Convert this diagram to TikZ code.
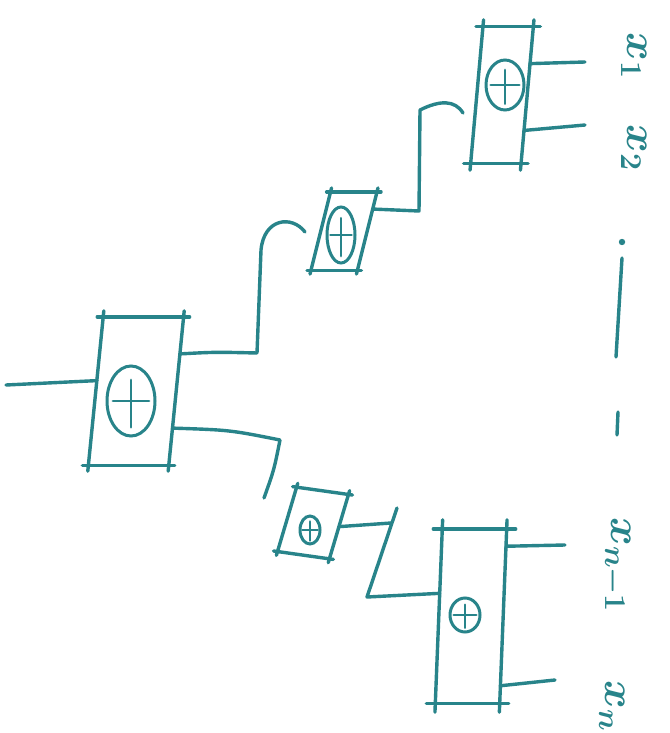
\documentclass[tikz,border=0pt]{standalone}
\usetikzlibrary{shapes.geometric,calc}
\definecolor{ink}{RGB}{40,132,138}
\newcommand{\skbox}[2]{%
 \draw[ink line] ($(#1.north west)!-#2!(#1.south west)$) -- ($(#1.south west)!-#2!(#1.north west)$);
 \draw[ink line] ($(#1.north east)!-#2!(#1.south east)$) -- ($(#1.south east)!-#2!(#1.north east)$);
 \draw[ink line] ($(#1.north west)!-#2!(#1.north east)$) -- ($(#1.north east)!-#2!(#1.north west)$);
 \draw[ink line] ($(#1.south west)!-#2!(#1.south east)$) -- ($(#1.south east)!-#2!(#1.south west)$);
}
\begin{document}
\begin{tikzpicture}[x=1pt,y=-1pt,
  ink line/.style={draw=ink, line width=3.4pt, line cap=round, line join=round},
  gatebox/.style={rectangle, inner sep=0pt, draw=none},
  xorc/.style={ellipse, draw=ink, line width=3pt, inner sep=0pt,
    path picture={\draw[draw=ink, line width=2.8pt, line cap=round]
      ($(path picture bounding box.center)!0.75!(path picture bounding box.west)$) --
      ($(path picture bounding box.center)!0.75!(path picture bounding box.east)$)
      ($(path picture bounding box.center)!0.6!(path picture bounding box.north)$) --
      ($(path picture bounding box.center)!0.75!(path picture bounding box.south)$);}},
  lab/.style={text=ink, rotate=-90, font=\huge\boldmath, scale=2.1, inner sep=0pt}
]
\fill[white] (0,0) rectangle (669,733);
\useasboundingbox (0,0) rectangle (669,733);

% gate boxes
\node[gatebox, minimum width=80pt, minimum height=148pt, xslant=0.1] (g1) at (136,391) {};
\node[gatebox, minimum width=46pt, minimum height=78pt, xslant=0.25] (g2) at (344,231) {};
\node[gatebox, minimum width=50pt, minimum height=136pt, xslant=0.09] (g3) at (502,95) {};
\node[gatebox, minimum width=52pt, minimum height=66pt, rotate=-8, xslant=0.15] (g4) at (313,523) {};
\node[gatebox, minimum width=64pt, minimum height=174pt, xslant=0.04] (g5) at (471,616) {};
\skbox{g1}{6pt}
\skbox{g2}{4pt}
\skbox{g3}{7pt}
\skbox{g4}{4pt}
\skbox{g5}{9pt}

% xor circles
\node[xorc, minimum width=48pt, minimum height=70pt] (c1) at (131,401) {};
\node[xorc, minimum width=28pt, minimum height=56pt] (c2) at (341,235) {};
\node[xorc, minimum width=38pt, minimum height=50pt] (c3) at (505,85) {};
\node[xorc, minimum width=20pt, minimum height=28pt] (c4) at (310,530) {};
\node[xorc, minimum width=30pt, minimum height=34pt] (c5) at (465,615) {};

% ports
\coordinate (rootin) at (6,385);
\coordinate (g1i) at ($(g1.north west)!0.43!(g1.south west)$);
\coordinate (g1o1) at ($(g1.north east)!0.25!(g1.south east)$);
\coordinate (g1o2) at ($(g1.north east)!0.75!(g1.south east)$);
\coordinate (g2o) at ($(g2.north east)!0.22!(g2.south east)$);
\coordinate (g3o1) at ($(g3.north east)!0.27!(g3.south east)$);
\coordinate (g3o2) at ($(g3.north east)!0.76!(g3.south east)$);
\coordinate (g4o) at ($(g4.north east)!0.5!(g4.south east)$);
\coordinate (g5i) at ($(g5.north west)!0.37!(g5.south west)$);
\coordinate (g5o1) at ($(g5.north east)!0.1!(g5.south east)$);
\coordinate (g5o2) at ($(g5.north east)!0.9!(g5.south east)$);
\coordinate (e2) at (305,232);
\coordinate (e3) at (463,113);
\coordinate (e4) at (264,498);
\coordinate (e45) at (391,523);
\coordinate (t1) at (585,62);
\coordinate (t2) at (585,125);
\coordinate (t3) at (565,545);
\coordinate (t4) at (555,680);

% connectors
\draw[ink line] (rootin) -- (g1i);
\draw[ink line] (g1o1) .. controls (215,352) .. (257,353) -- (261,250)
  .. controls (264,218) and (292,215) .. (e2);
\draw[ink line] (g1o2) .. controls (230,430) .. (280,440) .. controls (274,470) .. (e4);
\draw[ink line] (g2o) -- (419,211) -- (420,110) .. controls (440,100) and (455,100) .. (e3);
\draw[ink line] (g4o) -- (e45);
\draw[ink line] (397,508) -- (367,597) -- (g5i);
\draw[ink line] (g3o1) -- (t1);
\draw[ink line] (g3o2) -- (t2);
\draw[ink line] (g5o1) -- (t3);
\draw[ink line] (g5o2) -- (t4);

% labels
\node[lab] (x1) at (634,56) {$x_1$};
\node[lab] (x2) at (634,148) {$x_2$};
\node[lab] (xn1) at (616,565) {$x_{n-1}$};
\node[lab] (xn) at (612,706) {$x_n$};

% dots
\fill[ink] (622,242) circle (3.2pt);
\draw[ink line] (622,258) -- (616,357);
\draw[ink line] (618,412) -- (617,435);
\end{tikzpicture}
\end{document}
